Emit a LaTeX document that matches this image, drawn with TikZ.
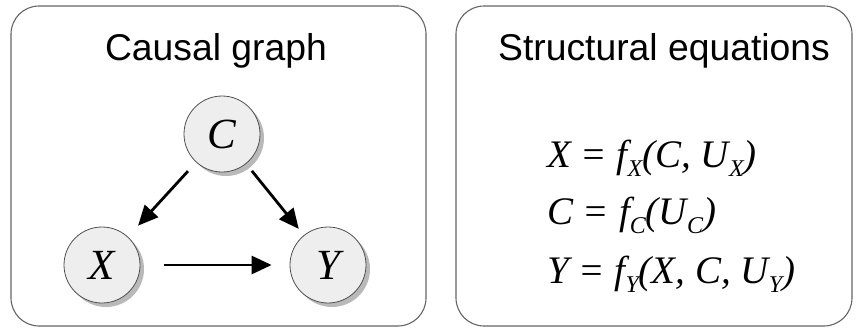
\documentclass[tikz,border=0pt]{standalone}
\usepackage{fontspec}
\setmainfont{Liberation Sans}
\newfontfamily\eqfont{Liberation Serif}
\usepackage{tikz}
\usetikzlibrary{arrows.meta,shadows}
\definecolor{nodefill}{RGB}{238,238,238}
\definecolor{nodeline}{RGB}{80,80,80}
\definecolor{boxline}{RGB}{100,100,100}
\definecolor{shadowgray}{RGB}{185,185,185}
\newcommand{\sbs}[1]{\raisebox{-0.25em}{\fontsize{24}{24}\selectfont #1}}

\begin{document}
\begin{tikzpicture}[x=1pt,y=-1pt,
  panel/.style={draw=boxline,line width=1.1pt,rounded corners=28pt},
  title/.style={anchor=base,inner sep=0pt,font=\fontsize{37.3}{40}\selectfont},
  var/.style={circle,draw=nodeline,line width=0.8pt,fill=nodefill,minimum size=76pt,inner sep=0pt,
    drop shadow={shadow xshift=4pt,shadow yshift=-4pt,fill=shadowgray,opacity=1},
    font=\eqfont\itshape\fontsize{43}{45}\selectfont},
  eq/.style={anchor=base west,inner sep=0pt,font=\eqfont\itshape\fontsize{39}{42}\selectfont},
  arr/.style={-{Triangle[length=20pt,width=18pt]},line width=2.8pt}]
\useasboundingbox (0,0) rectangle (860,327);
\draw[panel] (11,6) rectangle (426,326);
\draw[panel] (456,6) rectangle (852,326);
\node[title] (graphtitle) at (216,60) {Causal graph};
\node[title] (eqtitle) at (664,60) {Structural equations};
\node[var] (C) at (222,134) {C};
\node[var] (X) at (102,265) {X};
\node[var] (Y) at (328,265) {Y};
\draw[arr,shorten <=12pt,shorten >=15pt] (C) -- (X);
\draw[arr,shorten <=9pt,shorten >=8pt] (C) -- (Y);
\draw[arr,shorten <=24pt,shorten >=18pt] (X) -- (Y);
\node[eq] (eqx) at (547,167) {X = f\sbs{X}(C, U\sbs{X})};
\node[eq] (eqc) at (547,224) {C = f\sbs{C}(U\sbs{C})};
\node[eq] (eqy) at (547,283) {Y = f\sbs{Y}(X, C, U\sbs{Y})};
\end{tikzpicture}
\end{document}
